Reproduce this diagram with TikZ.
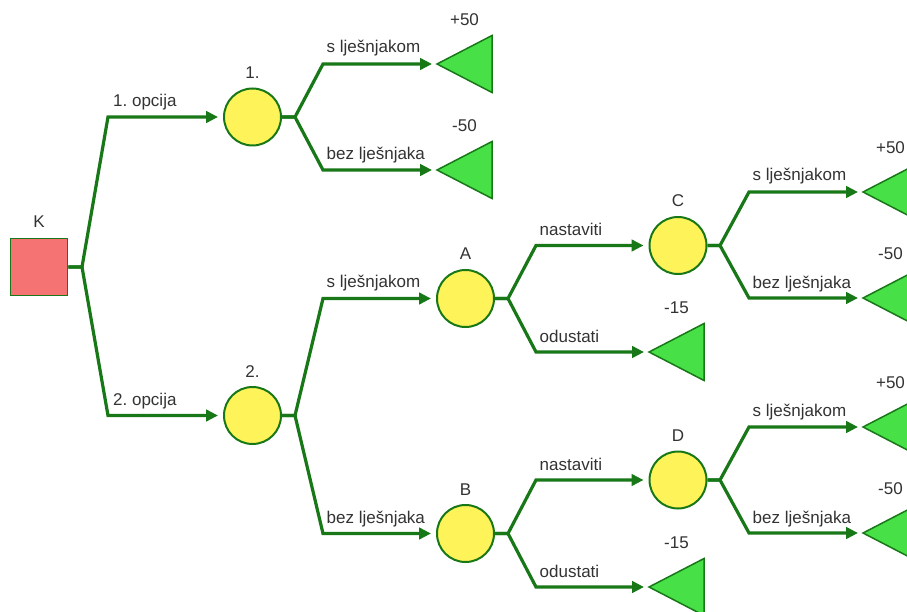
\documentclass[tikz,border=0pt]{standalone}
\usepackage{fontspec}
\setmainfont{Liberation Sans}
\usetikzlibrary{arrows.meta,calc}
\definecolor{lgreen}{HTML}{187818}
\definecolor{cyell}{HTML}{FFF35A}
\definecolor{tgreen}{HTML}{47E047}
\definecolor{kred}{HTML}{F57373}
\definecolor{txt}{HTML}{333333}
\tikzset{
  branch/.style={draw=lgreen, line width=3.2pt, line join=miter, -{Triangle[length=12pt,width=11.5pt]}, shorten >=5pt},
  chance/.style={circle, draw=lgreen, line width=2pt, fill=cyell, minimum size=57pt, inner sep=0pt},
  decis/.style={rectangle, draw=lgreen, line width=1.5pt, fill=kred, minimum size=57pt, inner sep=0pt},
  payoff/.style={draw=lgreen, line width=1.5pt, fill=tgreen, line join=miter},
  lbl/.style={text=txt, font=\fontsize{17}{20}\selectfont\frenchspacing, inner sep=0pt},
}
\begin{document}
\begin{tikzpicture}[x=1pt,y=-1pt]
\useasboundingbox (0,0) rectangle (907,612);
\clip (0,0) rectangle (907,612);
\fill[white] (0,0) rectangle (907,612);
% nodes
\node[decis] (K) at (39,267) {};
\node[chance] (c1) at (252.5,117) {};
\node[chance] (c2) at (252.5,415.5) {};
\node[chance] (A) at (465.5,298.5) {};
\node[chance] (B) at (465.5,533.5) {};
\node[chance] (C) at (678,245.5) {};
\node[chance] (D) at (678,480) {};
% node labels
\node[lbl, anchor=base] at (39,228) {K};
\foreach \n/\t in {c1/1., c2/2., A/A, B/B, C/C, D/D}
  \node[lbl, anchor=base] at ($(\n.north)+(0,-9)$) {\t};
% junctions
\coordinate (jK) at (82,267);
\coordinate (j1) at (295,117);
\coordinate (j2) at (295,415.5);
\coordinate (jA) at (508,298.5);
\coordinate (jB) at (508,533.5);
\coordinate (jC) at (720,245.5);
\coordinate (jD) at (720,480);
% corners
\coordinate (kK1) at (108,117);   \coordinate (kK2) at (108,415.5);
\coordinate (k1a) at (323,64);    \coordinate (k1b) at (323,170);
\coordinate (k2a) at (323,298.5); \coordinate (k2b) at (323,533.5);
\coordinate (kAa) at (536,245.5); \coordinate (kAb) at (536,352);
\coordinate (kBa) at (536,480);   \coordinate (kBb) at (536,587);
\coordinate (kCa) at (749,192);   \coordinate (kCb) at (749,298);
\coordinate (kDa) at (749,427);   \coordinate (kDb) at (749,533);
% payoff triangles (apex)
\coordinate (t1a) at (437,64);  \coordinate (t1b) at (437,170);
\coordinate (tA) at (649,352);  \coordinate (tB) at (649,587);
\coordinate (tCa) at (863,192); \coordinate (tCb) at (863,298);
\coordinate (tDa) at (863,427); \coordinate (tDb) at (863,533);
\foreach \t/\v in {t1a/+50, t1b/-50, tA/-15, tB/-15, tCa/+50, tCb/-50, tDa/+50, tDb/-50}{
  \draw[payoff] (\t) -- ++(55,-28.5) -- ++(0,57) -- cycle;
  \node[lbl, anchor=base] at ($(\t)+(27.5,-38.5)$) {\v};
}
% connectors
\draw[branch] (K.east) -- (jK) -- (kK1) -- (c1.west);
\draw[branch] (K.east) -- (jK) -- (kK2) -- (c2.west);
\draw[branch] (c1.east) -- (j1) -- (k1a) -- (t1a);
\draw[branch] (c1.east) -- (j1) -- (k1b) -- (t1b);
\draw[branch] (c2.east) -- (j2) -- (k2a) -- (A.west);
\draw[branch] (c2.east) -- (j2) -- (k2b) -- (B.west);
\draw[branch] (A.east) -- (jA) -- (kAa) -- (C.west);
\draw[branch] (A.east) -- (jA) -- (kAb) -- (tA);
\draw[branch] (B.east) -- (jB) -- (kBa) -- (D.west);
\draw[branch] (B.east) -- (jB) -- (kBb) -- (tB);
\draw[branch] (C.east) -- (jC) -- (kCa) -- (tCa);
\draw[branch] (C.east) -- (jC) -- (kCb) -- (tCb);
\draw[branch] (D.east) -- (jD) -- (kDa) -- (tDa);
\draw[branch] (D.east) -- (jD) -- (kDb) -- (tDb);
% branch labels
\node[lbl, anchor=base west] at ($(kK1)+(5,-10)$) {1. opcija};
\node[lbl, anchor=base west] at ($(kK2)+(5,-10)$) {2. opcija};
\node[lbl, anchor=base west] at ($(k1a)+(3.5,-11)$) {s lješnjakom};
\node[lbl, anchor=base west] at ($(k1b)+(3.5,-10)$) {bez lješnjaka};
\node[lbl, anchor=base west] at ($(k2a)+(3.5,-11)$) {s lješnjakom};
\node[lbl, anchor=base west] at ($(k2b)+(3.5,-10)$) {bez lješnjaka};
\node[lbl, anchor=base west] at ($(kAa)+(3.5,-10)$) {nastaviti};
\node[lbl, anchor=base west] at ($(kAb)+(3.5,-10)$) {odustati};
\node[lbl, anchor=base west] at ($(kBa)+(3.5,-10)$) {nastaviti};
\node[lbl, anchor=base west] at ($(kBb)+(3.5,-10)$) {odustati};
\node[lbl, anchor=base west] at ($(kCa)+(3.5,-11)$) {s lješnjakom};
\node[lbl, anchor=base west] at ($(kCb)+(3.5,-10)$) {bez lješnjaka};
\node[lbl, anchor=base west] at ($(kDa)+(3.5,-11)$) {s lješnjakom};
\node[lbl, anchor=base west] at ($(kDb)+(3.5,-10)$) {bez lješnjaka};
\end{tikzpicture}
\end{document}
